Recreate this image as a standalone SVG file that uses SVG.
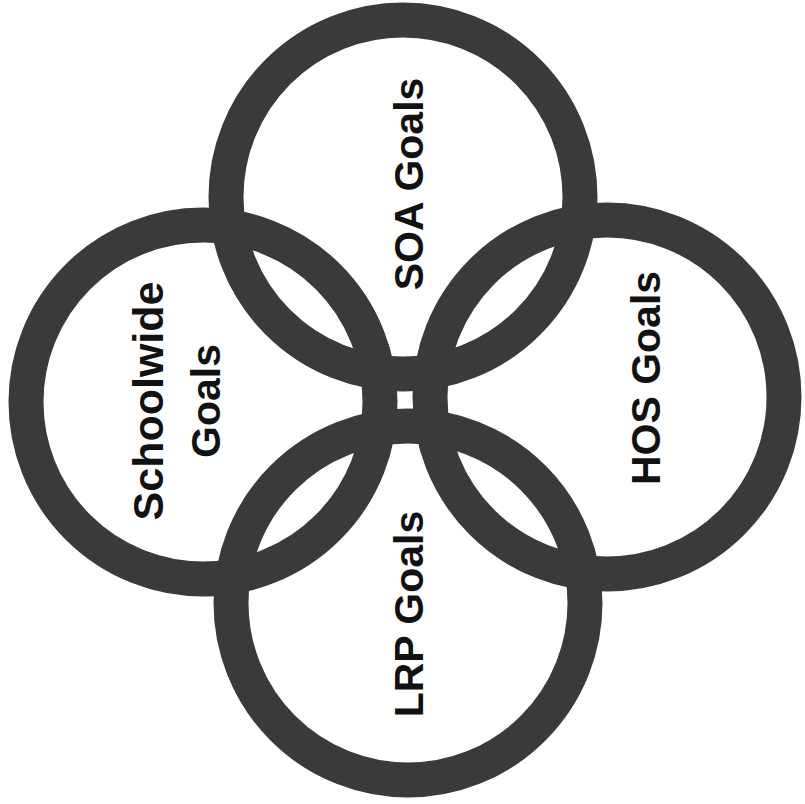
<svg xmlns="http://www.w3.org/2000/svg" width="805" height="804" viewBox="0 0 805 804">
<style>
.ring{fill:none;stroke:#3a3a3a;stroke-width:35}
.lbl{font-family:"Liberation Sans",Arial,sans-serif;font-weight:bold;font-size:41px;fill:#111;text-anchor:middle}
</style>
<rect width="805" height="804" fill="#fff"/>
<g id="connectors"></g>
<g id="soa"><circle class="ring" cx="403" cy="197" r="177"/><text class="lbl" transform="translate(423,184) rotate(-90)">SOA Goals</text></g>
<g id="schoolwide"><circle class="ring" cx="203" cy="402" r="177"/><text class="lbl" style="font-size:43px" transform="translate(163,401) rotate(-90)">Schoolwide</text><text class="lbl" transform="translate(220,401) rotate(-90)">Goals</text></g>
<g id="hos"><circle class="ring" cx="607" cy="397" r="177"/><text class="lbl" transform="translate(660,378) rotate(-90)">HOS Goals</text></g>
<g id="lrp"><circle class="ring" cx="408" cy="603" r="177"/><text class="lbl" transform="translate(423,614) rotate(-90)">LRP Goals</text></g>
</svg>
